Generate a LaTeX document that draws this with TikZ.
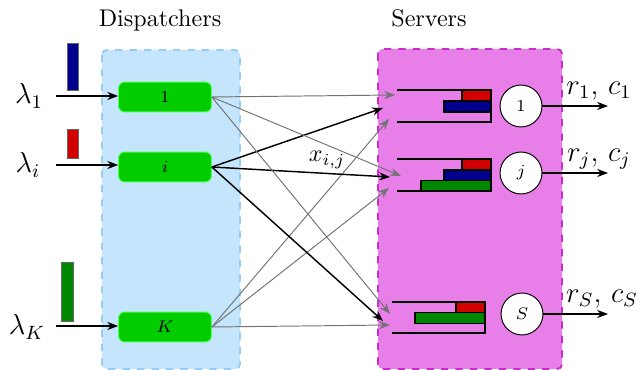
\documentclass[tikz,border=0pt]{standalone}
\usetikzlibrary{arrows.meta}

\definecolor{dispback}{RGB}{196,229,252}
\definecolor{dispedge}{RGB}{150,205,245}
\definecolor{servback}{RGB}{232,126,232}
\definecolor{servedge}{RGB}{200,45,200}
\definecolor{dispgreen}{RGB}{0,204,0}
\definecolor{jobblue}{RGB}{0,0,140}
\definecolor{jobred}{RGB}{210,0,0}
\definecolor{jobgreen}{RGB}{0,135,0}

\tikzset{
	dispatcher/.style={rectangle, rounded corners=2.5pt, fill=dispgreen, draw=green!70!white, minimum width=38.5pt, minimum height=12.4pt, inner sep=0pt, font=\scriptsize},
	server/.style={circle, draw, fill=white, minimum size=17.4pt, inner sep=0pt, font=\scriptsize},
	queue/.style={semithick},
	job/.style={draw=black, semithick},
	route/.style={->, black!55},
	mainroute/.style={->, semithick},
}

\begin{document}
\begin{tikzpicture}[x=0.415pt, y=-0.415pt, >={Stealth[length=4.5pt]}]
	\useasboundingbox (0,0) rectangle (637,370);

	% areas
	\draw[dashed, thick, rounded corners=2pt, draw=dispedge, fill=dispback] (102,50) rectangle (240,369);
	\draw[dashed, thick, rounded corners=2pt, draw=servedge, fill=servback] (378,49) rectangle (562,369);
	\node[anchor=base] (disptitle) at (160,27) {Dispatchers};
	\node[anchor=base] (servtitle) at (429,27) {Servers};

	% dispatchers
	\node[dispatcher] (d1) at (165,97) {1};
	\node[dispatcher] (di) at (165,167) {$i$};
	\node[dispatcher] (dK) at (165,327) {$K$};

	% arrivals
	\node[font=\large] (l1) at (29,96) {$\lambda_1$};
	\node[font=\large] (li) at (28,165) {$\lambda_i$};
	\node[font=\large] (lK) at (27,327) {$\lambda_K$};
	\coordinate (a1) at (56,96);
	\coordinate (ai) at (56,165);
	\coordinate (aK) at (56,326);
	\foreach \d in {1,i,K}
		\draw[->, semithick] (a\d) -- (a\d -| d\d.west);
	\filldraw[draw=black!60, fill=jobblue] (67,43) rectangle (78,90);
	\filldraw[draw=black!60, fill=jobred] (67,129) rectangle (78,158);
	\filldraw[draw=black!60, fill=jobgreen] (61,262) rectangle (73,321);

	% queue 1
	\draw[queue] (397,90) -- (491,90) -- (491,122) -- (397,122);
	\filldraw[job, fill=jobred] (462,90) rectangle (491,101);
	\filldraw[job, fill=jobblue] (444,101) rectangle (491,112);

	% queue j
	\draw[queue] (397,159) -- (491,159) -- (491,191) -- (397,191);
	\filldraw[job, fill=jobred] (462,159) rectangle (491,170);
	\filldraw[job, fill=jobblue] (444,170) rectangle (491,180.5);
	\filldraw[job, fill=jobgreen] (421,180.5) rectangle (491,191);

	% queue S
	\draw[queue] (392,302) -- (485,302) -- (485,333) -- (392,333);
	\filldraw[job, fill=jobred] (456,302) rectangle (485,312.7);
	\filldraw[job, fill=jobgreen] (415,312.7) rectangle (485,323.3);

	% servers
	\node[server] (s1) at (521,106) {1};
	\node[server] (sj) at (521,173) {$j$};
	\node[server] (sS) at (522,314) {$S$};
	\coordinate (o1) at (608,106);
	\coordinate (oj) at (608,173);
	\coordinate (oS) at (608,314);
	\foreach \s in {1,j,S}
		\draw[->, semithick] (s\s) -- (o\s);
	\node[font=\large] (out1) at (599,91) {$r_1,\,c_1$};
	\node[font=\large] (outj) at (599,159) {$r_j,\,c_j$};
	\node[font=\large] (outS) at (602,299) {$r_S,\,c_S$};

	% queue entries
	\coordinate (e1-a) at (395,95);
	\coordinate (e1-b) at (383,108);
	\coordinate (e1-c) at (389,119);
	\coordinate (ej-a) at (401,176);
	\coordinate (ej-b) at (390,177);
	\coordinate (ej-c) at (389,188);
	\coordinate (eS-a) at (390,314);
	\coordinate (eS-b) at (383,321);
	\coordinate (eS-c) at (390,325);

	% routing
	\foreach \q in {1,j,S} {
		\draw[route] (d1.east) -- (e\q-a);
		\draw[mainroute] (di.east) -- (e\q-b);
		\draw[route] (dK.east) -- (e\q-c);
	};
	\node (xij) at (327,160) {$x_{i,j}$};
\end{tikzpicture}
\end{document}
